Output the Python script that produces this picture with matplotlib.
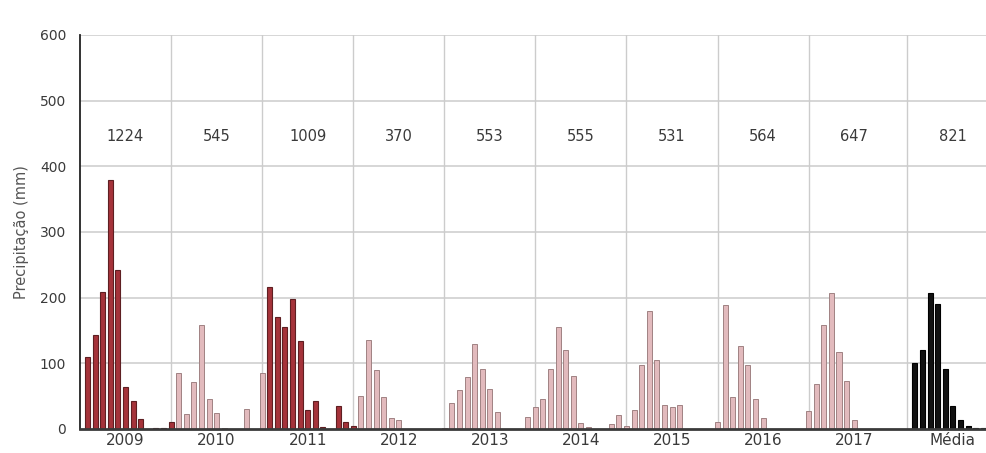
import matplotlib
matplotlib.use("Agg")
import matplotlib.pyplot as plt
import numpy as np

# Monthly precipitation (mm), continuous series, 12 months per year group
groups = ["2009", "2010", "2011", "2012", "2013", "2014", "2015", "2016", "2017", "Média"]
annual_totals = ["1224", "545", "1009", "370", "553", "555", "531", "564", "647", "821"]

y2009 = [110, 143, 209, 379, 242, 64, 42, 15, 0, 2, 2, 10]
y2010 = [86, 23, 72, 159, 45, 25, 1, 0, 0, 30, 0, 86]
y2011 = [216, 171, 155, 198, 134, 29, 42, 3, 0, 35, 11, 4]
y2012 = [51, 136, 90, 49, 16, 14, 0, 0, 0, 0, 0, 1]
y2013 = [39, 59, 79, 130, 92, 61, 26, 0, 0, 0, 18, 34]
y2014 = [45, 92, 156, 121, 81, 9, 3, 0, 0, 7, 21, 4]
y2015 = [29, 97, 180, 105, 36, 34, 36, 0, 0, 0, 0, 10]
y2016 = [189, 49, 127, 97, 45, 16, 0, 0, 0, 0, 0, 28]
y2017 = [68, 159, 207, 118, 73, 14, 0, 0, 0, 0, 0, 0]
media = [100, 120, 207, 190, 91, 35, 14, 4, 1, 1, 1, 1]

series = [y2009, y2010, y2011, y2012, y2013, y2014, y2015, y2016, y2017, media]
kinds = ["wet", "dry", "wet", "dry", "dry", "dry", "dry", "dry", "dry", "mean"]

styles = {
    "wet": dict(color="#a5333a", edgecolor="#5e1f22", linewidth=0.8),
    "dry": dict(color="#e2babd", edgecolor="#a08283", linewidth=0.7),
    "mean": dict(color="#111111", edgecolor="#000000", linewidth=0.8),
}

# group start positions (Média group separated by an extra slot)
starts = [12 * g for g in range(9)] + [109]

fig = plt.figure(figsize=(9.87, 4.53), dpi=100)
ax = fig.add_axes([80 / 987, 1 - 429 / 453, 907 / 987, 394 / 453])

font = ["Liberation Sans Narrow", "DejaVu Sans"]
txtc = "#3a3a3a"

for s0, vals, kind in zip(starts, series, kinds):
    x = s0 + 1 + np.arange(len(vals))
    ax.bar(x, vals, width=0.66, zorder=3, **styles[kind])

ax.set_xlim(0, 119.5)
ax.set_ylim(0, 600)
ax.set_yticks(range(0, 601, 100))
ax.set_yticklabels([str(v) for v in range(0, 601, 100)], family=font,
                   fontsize=10, color=txtc)
ax.tick_params(axis="y", length=0, pad=10)

ax.set_xticks([s + 6 for s in starts])
ax.set_xticklabels(groups, family=font, fontsize=11, color=txtc)
ax.tick_params(axis="x", length=0, pad=3)

for yv in range(100, 601, 100):
    ax.axhline(yv, color="#cccccc", lw=1.1, zorder=1)
for s in starts[1:]:
    ax.axvline(s, color="#cccccc", lw=1.0, zorder=1)

for s, t in zip(starts, annual_totals):
    ax.text(s + 6, 445, t, ha="center", va="center", family=font,
            fontsize=10.5, color=txtc)

ax.set_ylabel("Precipitação (mm)", family=font, fontsize=10.5, color="#555555",
              labelpad=8)

for side in ["top", "right"]:
    ax.spines[side].set_visible(False)
ax.spines["left"].set_color("#222222")
ax.spines["left"].set_linewidth(1.3)
ax.spines["bottom"].set_color("#3a3a3a")
ax.spines["bottom"].set_linewidth(2.0)
ax.spines["bottom"].set_zorder(4)

fig.savefig("out.png", dpi=100)
